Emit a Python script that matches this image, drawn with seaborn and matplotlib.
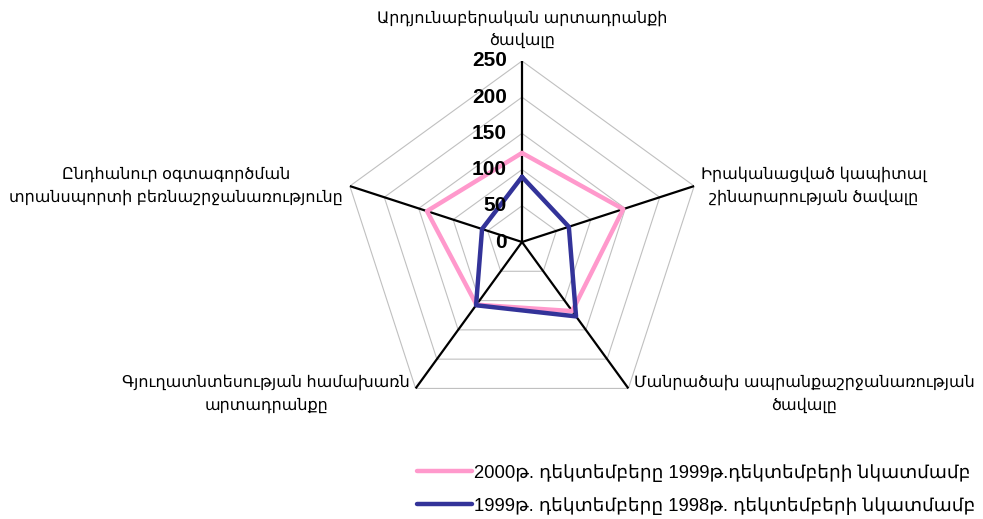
import numpy as np
import pandas as pd
import matplotlib
matplotlib.use('Agg')
import matplotlib.pyplot as plt
import seaborn as sns

sns.set_style('white')
plt.rcParams['font.family'] = ['Liberation Sans', 'DejaVu Sans']
plt.rcParams['text.color'] = 'black'

categories = ['Արդյունաբերական արտադրանքի\nծավալը',
              'Իրականացված կապիտալ\nշինարարության ծավալը',
              'Մանրածախ ապրանքաշրջանառության\nծավալը',
              'Գյուղատնտեսության համախառն\nարտադրանքը',
              'Ընդհանուր օգտագործման\nտրանսպորտի բեռնաշրջանառությունը']
series_2000 = [123, 147, 118, 107, 138]
series_1999 = [90, 68, 127, 108, 58]
label_2000 = '2000թ. դեկտեմբերը 1999թ.դեկտեմբերի նկատմամբ'
label_1999 = '1999թ. դեկտեմբերը 1998թ. դեկտեմբերի նկատմամբ'
r_ticks = [0, 50, 100, 150, 200, 250]

pink = '#FF99CC'
navy = '#333399'

n = len(categories)
theta = np.linspace(0, 2 * np.pi, n, endpoint=False)
theta_c = np.append(theta, 2 * np.pi)

fig = plt.figure(figsize=(9.83, 5.19), dpi=100)
ax = fig.add_axes([341 / 983, 96 / 519, 362 / 983, 362 / 519], projection='polar')
ax.set_theta_zero_location('N')
ax.set_theta_direction(-1)
ax.grid(False)
ax.spines['polar'].set_visible(False)
ax.patch.set_alpha(0)

# polygon grid
for v in r_ticks[1:]:
    ax.plot(theta_c, [v] * (n + 1), color='#C0C0C0', lw=0.8, zorder=1)
# spokes
for a in theta:
    ax.plot([a, a], [0, r_ticks[-1]], color='black', lw=1.6, zorder=2)

df1 = pd.DataFrame({'t': theta_c, 'v': series_2000 + series_2000[:1]})
df2 = pd.DataFrame({'t': theta_c, 'v': series_1999 + series_1999[:1]})
sns.lineplot(data=df1, x='t', y='v', sort=False, color=pink, lw=3.2, ax=ax, label=label_2000, zorder=3)
sns.lineplot(data=df2, x='t', y='v', sort=False, color=navy, lw=3.2, ax=ax, label=label_1999, zorder=4)
ax.set_xlabel('')
ax.set_ylabel('')
ax.set_xticks([])
ax.set_yticks([])
ax.set_ylim(0, 250)

# tick labels
for v in r_ticks:
    ax.annotate(str(v), xy=(0, v), xytext=(-11, 0), textcoords='offset points',
                ha='right', va='center', fontsize=15, fontweight='bold', color='black', zorder=5)

# category labels
fs = 11.5
lab_pos = [((0, 9), 'center', 'bottom'),
           ((5, 0), 'left', 'center'),
           ((4, 10), 'left', 'top'),
           ((-4, 10), 'right', 'top'),
           ((-5, 0), 'right', 'center')]
for a, lab, (off, ha, va) in zip(theta, categories, lab_pos):
    ax.annotate(lab, xy=(a, 250), xytext=off, textcoords='offset points',
                ha=ha, va=va, multialignment='center', fontsize=fs, linespacing=1.6,
                color='black', annotation_clip=False)

handles, labels = ax.get_legend_handles_labels()
ax.get_legend().remove()
fig.legend(handles, labels, loc='lower right', bbox_to_anchor=(1.009, -0.024), frameon=False,
           fontsize=13.3, handlelength=3.0, handletextpad=0.1, labelspacing=0.82)

fig.savefig('out.png', dpi=100)
